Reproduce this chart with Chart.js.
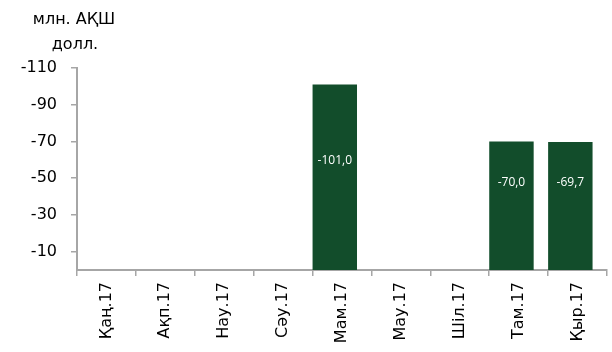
<!DOCTYPE html>
<html>
<head>
<meta charset="utf-8">
<script src="https://cdn.jsdelivr.net/npm/chart.js@4"></script>
<style>
  html, body { margin: 0; padding: 0; background: #fff; }
  #wrap { width: 612px; height: 352px; }
</style>
</head>
<body>
<div id="wrap"><canvas id="flowChart" width="612" height="352"></canvas></div>
<script>
const months = ['Қаң.17', 'Ақп.17', 'Нау.17', 'Сәу.17', 'Мам.17', 'Мау.17', 'Шіл.17', 'Там.17', 'Қыр.17'];
const flows = [null, null, null, null, -101.0, null, null, -70.0, -69.7];
const yTicks = [-110, -90, -70, -50, -30, -10];
const unitLines = ['млн. АҚШ', 'долл.'];

const fontFamily = "'DejaVu Sans', sans-serif";
const axisColor = '#a6a6a6';
const barColor = '#124d2b';

// excel-style value labels, sitting a bit under the top of each bar
const barLabels = {
    id: 'barLabels',
    afterDatasetsDraw(chart) {
        const ctx = chart.ctx;
        const meta = chart.getDatasetMeta(0);
        ctx.save();
        ctx.fillStyle = '#ffffff';
        ctx.font = "12px 'Open Sans', sans-serif";
        ctx.textAlign = 'center';
        ctx.textBaseline = 'middle';
        meta.data.forEach((bar, i) => {
            const v = flows[i];
            if (v === null) return;
            const h = bar.base - bar.y;
            const y = bar.y + (v < -90 ? h * 0.41 : h * 0.32);
            ctx.fillText(v.toFixed(1).replace('.', ','), bar.x, y);
        });
        ctx.restore();
    }
};

const unitTitle = {
    id: 'unitTitle',
    afterDraw(chart) {
        const ctx = chart.ctx;
        ctx.save();
        ctx.fillStyle = '#000';
        ctx.font = '16px ' + fontFamily;
        ctx.textAlign = 'center';
        ctx.textBaseline = 'middle';
        ctx.fillText(unitLines[0], 74, 20);
        ctx.fillText(unitLines[1], 75, 45);
        ctx.restore();
    }
};

new Chart(document.getElementById('flowChart').getContext('2d'), {
    type: 'bar',
    data: {
        labels: months,
        datasets: [
            {
                data: flows,
                backgroundColor: barColor,
                borderWidth: 0,
                categoryPercentage: 0.49,
                barPercentage: 3.08
            },
            {
                // empty second series of the original clustered chart
                data: months.map(() => null),
                backgroundColor: 'rgba(0,0,0,0)',
                categoryPercentage: 0.49,
                barPercentage: 3.08
            }
        ]
    },
    options: {
        responsive: false,
        animation: false,
        layout: { padding: { top: 68, right: 5, left: 0, bottom: 0 } },
        plugins: {
            legend: { display: false },
            tooltip: { enabled: false },
            title: { display: false }
        },
        scales: {
            x: {
                grid: {
                    offset: true,
                    drawOnChartArea: false,
                    drawTicks: true,
                    tickLength: 6,
                    color: axisColor,
                    lineWidth: 1.5
                },
                border: { display: true, color: axisColor, width: 2 },
                ticks: {
                    color: '#000',
                    font: { family: fontFamily, size: 16 },
                    minRotation: 90,
                    maxRotation: 90,
                    padding: 6,
                    autoSkip: false
                },
                afterFit(scale) { scale.height = 82; }
            },
            y: {
                reverse: true,
                min: -110,
                max: 0,
                afterBuildTicks(scale) {
                    scale.ticks = yTicks.map(v => ({ value: v }));
                },
                grid: {
                    drawOnChartArea: false,
                    drawTicks: true,
                    tickLength: 6,
                    color: axisColor,
                    lineWidth: 1.5
                },
                border: { display: true, color: axisColor, width: 2 },
                ticks: {
                    color: '#000',
                    font: { family: fontFamily, size: 16 },
                    padding: 14
                },
                afterFit(scale) { scale.width = 77; }
            }
        }
    },
    plugins: [barLabels, unitTitle]
});
</script>
</body>
</html>
